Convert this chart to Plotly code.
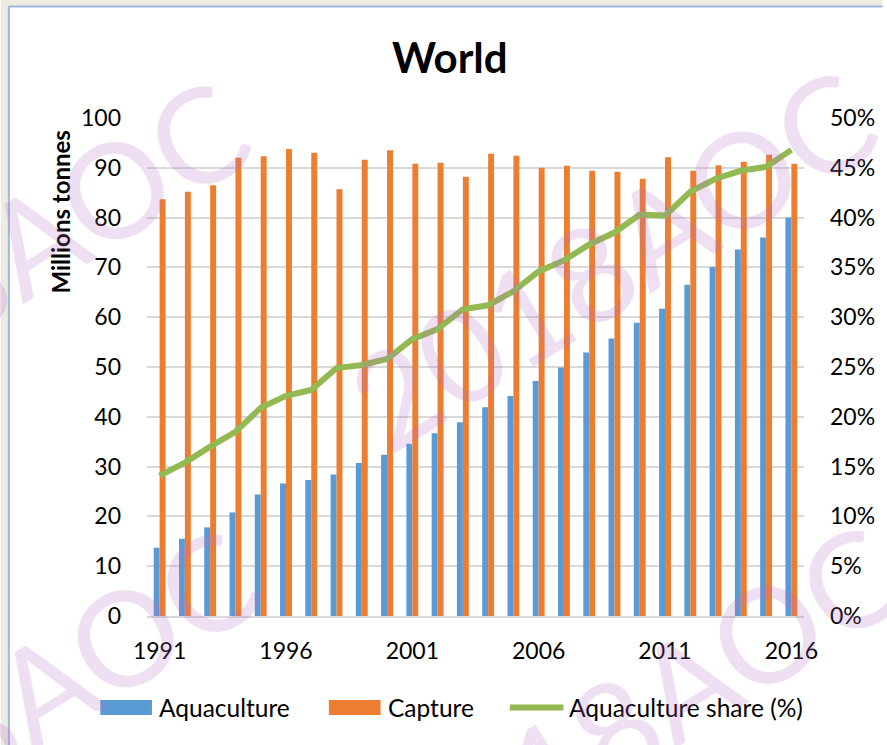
import plotly.graph_objects as go

# World fisheries and aquaculture production, 1991-2016
years = list(range(1991, 2017))
aquaculture = [13.7, 15.5, 17.8, 20.8, 24.4, 26.6, 27.3, 28.4, 30.7, 32.4,
               34.6, 36.7, 38.9, 41.9, 44.2, 47.2, 49.9, 52.9, 55.7, 58.9,
               61.7, 66.5, 70.1, 73.6, 76.0, 80.0]
capture = [83.7, 85.2, 86.5, 92.0, 92.3, 93.8, 93.0, 85.7, 91.6, 93.5,
           90.8, 91.0, 88.2, 92.8, 92.4, 90.0, 90.4, 89.4, 89.2, 87.8,
           92.1, 89.4, 90.5, 91.2, 92.6, 90.8]
share_pct = [14.1, 15.4, 17.0, 18.5, 20.9, 22.1, 22.7, 24.9, 25.2, 25.8,
             27.8, 28.8, 30.8, 31.2, 32.6, 34.6, 35.7, 37.3, 38.5, 40.3,
             40.2, 42.6, 43.9, 44.7, 45.1, 46.8]
year_ticks = [1991, 1996, 2001, 2006, 2011, 2016]
left_ticks = list(range(0, 101, 10))
right_ticks = [v / 100 for v in range(0, 51, 5)]

BLUE = "#5B9BD5"
ORANGE = "#ED7D31"
GREEN = "#93BA52"
FONT = "Lato"

W, H = 887, 745
L, R, T, B = 147, 79, 118, 129
PW, PH = W - L - R, H - T - B


def px(x):
    return (x - L) / PW


def py(y):
    return (H - B - y) / PH


fig = go.Figure()
fig.add_trace(go.Bar(x=years, y=aquaculture, name="Aquaculture",
                     marker=dict(color=BLUE, line=dict(width=0)),
                     showlegend=False))
fig.add_trace(go.Bar(x=years, y=capture, name="Capture",
                     marker=dict(color=ORANGE, line=dict(width=0)),
                     showlegend=False))
fig.add_trace(go.Scatter(x=years, y=[v / 100 for v in share_pct],
                         name="Aquaculture share (%)", yaxis="y2",
                         mode="lines", line=dict(color=GREEN, width=6),
                         showlegend=False))

shapes = [
    # window frame: beige strips with a thin blue border
    dict(type="rect", xref="paper", yref="paper", x0=px(0), x1=px(W),
         y0=py(0), y1=py(6), fillcolor="#EEEBE0", line=dict(width=0),
         layer="below"),
    dict(type="rect", xref="paper", yref="paper", x0=px(0), x1=px(7),
         y0=py(0), y1=py(H), fillcolor="#EEEBE0", line=dict(width=0),
         layer="below"),
    dict(type="line", xref="paper", yref="paper", x0=px(8), x1=px(W),
         y0=py(6.5), y1=py(6.5), line=dict(color="#9DB8E0", width=2)),
    dict(type="line", xref="paper", yref="paper", x0=px(8), x1=px(8),
         y0=py(6), y1=py(H), line=dict(color="#9DB8E0", width=2)),
    # legend swatches
    dict(type="rect", xref="paper", yref="paper", x0=px(100), x1=px(152),
         y0=py(700), y1=py(715), fillcolor=BLUE, line=dict(width=0)),
    dict(type="rect", xref="paper", yref="paper", x0=px(330), x1=px(382),
         y0=py(700), y1=py(715), fillcolor=ORANGE, line=dict(width=0)),
    dict(type="line", xref="paper", yref="paper", x0=px(512), x1=px(566),
         y0=py(707.5), y1=py(707.5), line=dict(color=GREEN, width=6)),
]

annotations = [
    dict(text="<b>World</b>", xref="paper", yref="paper", x=px(452), y=py(57),
         showarrow=False, font=dict(family=FONT, size=42, color="black"),
         xanchor="center", yanchor="middle"),
    dict(text="<b>Millions tonnes</b>", xref="paper", yref="paper",
         x=px(59), y=py(212), textangle=-90, showarrow=False,
         font=dict(family=FONT, size=24, color="black"),
         xanchor="center", yanchor="middle"),
]
for label, x0 in [("Aquaculture", 157), ("Capture", 387),
                  ("Aquaculture share (%)", 570)]:
    annotations.append(dict(text=label, xref="paper", yref="paper",
                            x=px(x0), y=py(707), showarrow=False,
                            xanchor="left", yanchor="middle",
                            font=dict(family=FONT, size=24.5, color="black")))

# repeated diagonal "2018AOC" watermark
for cx, cy in [(614, 258), (-16, 268), (-6, 716), (639, 713)]:
    annotations.append(dict(text="2018AOC", xref="paper", yref="paper",
                            x=px(cx), y=py(cy), textangle=-32,
                            showarrow=False, xanchor="center",
                            yanchor="middle",
                            font=dict(family=FONT, size=132,
                                      color="rgba(180,110,195,0.22)")))

fig.update_layout(
    width=W, height=H,
    margin=dict(l=L, r=R, t=T, b=B, pad=0),
    paper_bgcolor="white", plot_bgcolor="white",
    barmode="group", bargap=0.53, bargroupgap=0,
    font=dict(family=FONT, size=23, color="black"),
    xaxis=dict(range=[1990.5, 2016.5], tickvals=year_ticks,
               ticktext=[str(y) for y in year_ticks], showgrid=False,
               zeroline=False, showline=True, linecolor="#D9D9D9",
               linewidth=1.5, ticks="", ticklabelstandoff=14,
               tickfont=dict(family=FONT, size=23)),
    yaxis=dict(range=[0, 100], tickvals=left_ticks, showgrid=True,
               gridcolor="#D9D9D9", gridwidth=1.5, zeroline=False,
               showline=False, ticks="", ticklabelstandoff=25,
               tickfont=dict(family=FONT, size=23)),
    yaxis2=dict(range=[0, 0.5], tickvals=right_ticks, tickformat=".0%",
                overlaying="y", side="right", showgrid=False,
                zeroline=False, showline=False, ticks="",
                ticklabelstandoff=25, tickfont=dict(family=FONT, size=23)),
    shapes=shapes,
    annotations=annotations,
)

fig.write_html("out.html")
